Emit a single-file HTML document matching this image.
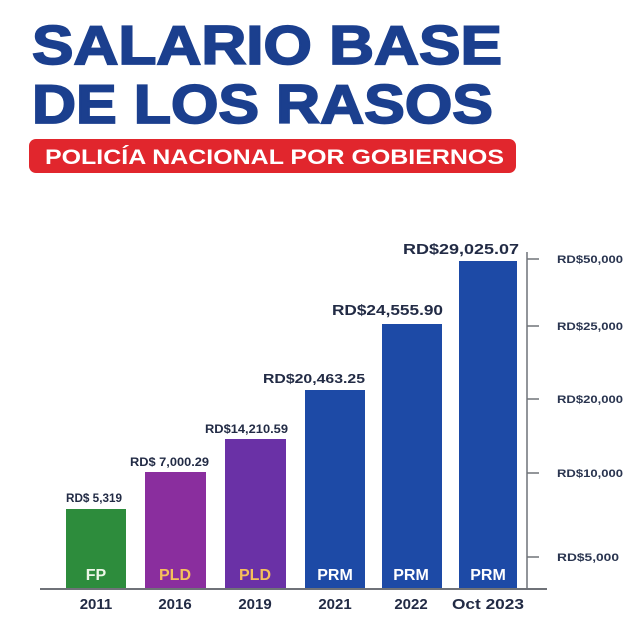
<!DOCTYPE html>
<html><head><meta charset="utf-8"><style>
html,body{margin:0;padding:0;background:#fff;}
svg{display:block;}
text{font-family:"Liberation Sans",sans-serif;font-weight:bold;}
</style></head><body>
<svg width="630" height="630" viewBox="0 0 630 630" xmlns="http://www.w3.org/2000/svg">
<rect width="630" height="630" fill="#fff"/>
<text x="32" y="64" font-size="55" fill="#1b3f8e" stroke="#1b3f8e" stroke-width="1.8" textLength="470" lengthAdjust="spacingAndGlyphs">SALARIO BASE</text>
<text x="32" y="123" font-size="55" fill="#1b3f8e" stroke="#1b3f8e" stroke-width="1.8" textLength="461" lengthAdjust="spacingAndGlyphs">DE LOS RASOS</text>
<rect x="29" y="139" width="487" height="34" rx="7" fill="#e1262d"/>
<text x="45" y="164" font-size="21" fill="#fff" textLength="459" lengthAdjust="spacingAndGlyphs">POLICÍA NACIONAL POR GOBIERNOS</text>

<rect x="66" y="509" width="60" height="80" fill="#2d8c3c"/>
<rect x="145" y="472" width="61" height="117" fill="#8a2e9e"/>
<rect x="225" y="439" width="61" height="150" fill="#6a31a6"/>
<rect x="305" y="390" width="60" height="199" fill="#1d4aa6"/>
<rect x="382" y="324" width="60" height="265" fill="#1d4aa6"/>
<rect x="459" y="261" width="58" height="328" fill="#1d4aa6"/>

<line x1="40" y1="589" x2="547" y2="589" stroke="#6f7278" stroke-width="2"/>
<line x1="527" y1="252" x2="527" y2="589" stroke="#6f7278" stroke-width="1.5"/>
<g stroke="#6f7278" stroke-width="1.5">
<line x1="527" y1="259" x2="539" y2="259"/>
<line x1="527" y1="326" x2="539" y2="326"/>
<line x1="527" y1="399" x2="539" y2="399"/>
<line x1="527" y1="473" x2="539" y2="473"/>
<line x1="527" y1="557" x2="539" y2="557"/>
</g>
<g font-size="11" fill="#2a3550">
<text x="557" y="263" textLength="66" lengthAdjust="spacingAndGlyphs">RD$50,000</text>
<text x="557" y="330" textLength="66" lengthAdjust="spacingAndGlyphs">RD$25,000</text>
<text x="557" y="403" textLength="66" lengthAdjust="spacingAndGlyphs">RD$20,000</text>
<text x="557" y="477" textLength="66" lengthAdjust="spacingAndGlyphs">RD$10,000</text>
<text x="557" y="561" textLength="62" lengthAdjust="spacingAndGlyphs">RD$5,000</text>
</g>

<g fill="#222b45">
<text x="66" y="502" font-size="12" textLength="56" lengthAdjust="spacingAndGlyphs">RD$ 5,319</text>
<text x="130" y="466" font-size="12" textLength="79" lengthAdjust="spacingAndGlyphs">RD$ 7,000.29</text>
<text x="205" y="433" font-size="12" textLength="83" lengthAdjust="spacingAndGlyphs">RD$14,210.59</text>
<text x="263" y="383" font-size="13" textLength="102" lengthAdjust="spacingAndGlyphs">RD$20,463.25</text>
<text x="332" y="315" font-size="15" textLength="111" lengthAdjust="spacingAndGlyphs">RD$24,555.90</text>
<text x="403" y="254" font-size="15" textLength="116" lengthAdjust="spacingAndGlyphs">RD$29,025.07</text>
</g>

<g font-size="16" text-anchor="middle">
<text x="96" y="580" fill="#eef7e8">FP</text>
<text x="175" y="580" fill="#f6c15a">PLD</text>
<text x="255" y="580" fill="#f6c15a">PLD</text>
<text x="335" y="580" fill="#fff">PRM</text>
<text x="411" y="580" fill="#fff">PRM</text>
<text x="488" y="580" fill="#fff">PRM</text>
</g>
<g font-size="15" text-anchor="middle" fill="#222b45">
<text x="96" y="609">2011</text>
<text x="175" y="609">2016</text>
<text x="255" y="609">2019</text>
<text x="335" y="609">2021</text>
<text x="411" y="609">2022</text>
<text x="488" y="609" textLength="72" lengthAdjust="spacingAndGlyphs">Oct 2023</text>
</g>
</svg>
</body></html>
